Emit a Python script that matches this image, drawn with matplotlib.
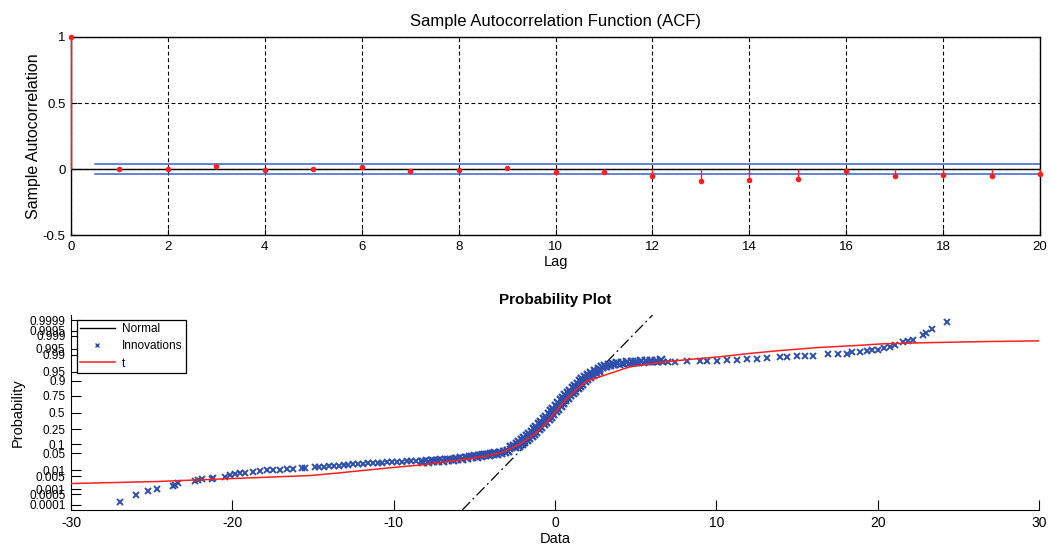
import matplotlib
matplotlib.use('Agg')
import matplotlib.pyplot as plt
from matplotlib.lines import Line2D
import numpy as np
from statistics import NormalDist

plt.rcParams['font.family'] = ['Liberation Sans', 'DejaVu Sans']
plt.rcParams['axes.unicode_minus'] = False

# --- ACF panel data ---
lags = list(range(21))
acf = [1.0, 0.0, 0.0, 0.02, -0.005, 0.0, 0.017, -0.015, -0.008, 0.005, -0.02,
       -0.02, -0.05, -0.094, -0.086, -0.074, -0.013, -0.05, -0.045, -0.05, -0.038]
bound_x = [0.5, 20]
bound_hi = 0.038
bound_lo = -0.038

# --- probability plot data (data value, probability) ---
inn_x = [-26.96, -25.97, -25.21, -24.65, -23.70, -23.55, -23.35, -22.31, -22.11, -21.90,
         -21.28, -21.18, -20.45, -20.14, -19.83, -19.52, -19.20, -18.70, -18.28, -17.87,
         -17.46, -17.05, -16.63, -16.22, -15.70, -15.50, -14.88,
         -14.6, -14.3, -14.0, -13.7, -13.4, -13.1, -12.8, -12.5, -12.2, -11.9,
         -11.6, -11.3, -11.0, -10.7, -10.4, -10.1, -9.8, -9.5, -9.2, -8.9,
         -8.6, -8.3, -8.0, -7.7, -7.4, -7.1, -6.8, -6.5, -6.2, -5.9,
         -5.6, -5.3, -5.0, -4.75, -4.5, -4.25, -4.0, -3.75, -3.5, -3.25,
         -3.0, -2.8, -2.6, -2.4, -2.2, -2.05, -1.9, -1.75, -1.6, -1.45,
         -1.3, -1.15, -1.0, -0.85, -0.7, -0.55, -0.4, -0.25, -0.1, 0.05,
         0.2, 0.35, 0.5, 0.65, 0.8, 0.95, 1.1, 1.25, 1.4, 1.55,
         1.7, 1.85, 2.0, 2.2, 2.4, 2.6, 2.8, 3.0, 3.25, 3.5,
         3.75, 4.0, 4.3, 4.6, 4.9, 5.2, 5.5, 5.8, 6.1, 6.4,
         6.7, 7.0, 7.44, 8.18, 8.99, 9.42, 10.04, 10.66, 11.28, 11.90,
         12.52, 13.14, 13.95, 14.38, 15.00, 15.50, 15.99, 16.92, 17.54, 18.10,
         18.41, 18.91, 19.34, 19.65, 20.02, 20.39, 20.77, 21.08, 21.57, 21.88,
         22.19, 22.81, 23.00, 23.37, 24.30]
inn_p = [0.00015, 0.00043, 0.00076, 0.00103, 0.00144, 0.00164, 0.00212, 0.00290, 0.00330, 0.00368,
         0.00390, 0.00410, 0.00480, 0.00570, 0.00640, 0.00714, 0.00760, 0.00842, 0.00900, 0.01000,
         0.01030, 0.01080, 0.01110, 0.01150, 0.01290, 0.01330, 0.01390,
         0.0143, 0.0146, 0.0150, 0.0154, 0.0160, 0.0166, 0.0174, 0.0183, 0.0190, 0.0197,
         0.0202, 0.0209, 0.0214, 0.0220, 0.0225, 0.0230, 0.0236, 0.0239, 0.0244, 0.0250,
         0.0256, 0.0262, 0.0268, 0.0277, 0.0284, 0.0294, 0.0307, 0.0318, 0.0333, 0.0352,
         0.0371, 0.0392, 0.0418, 0.0441, 0.0465, 0.0485, 0.0510, 0.0537, 0.0571, 0.0606,
         0.0649, 0.0708, 0.0808, 0.0918, 0.1057, 0.1190, 0.1357, 0.1539, 0.1711, 0.1949,
         0.2206, 0.2514, 0.2810, 0.3192, 0.3557, 0.3936, 0.4364, 0.4761, 0.5199, 0.5636,
         0.6064, 0.6480, 0.6879, 0.7257, 0.7580, 0.7852, 0.8106, 0.8365, 0.8577, 0.8790,
         0.8980, 0.9131, 0.9251, 0.9370, 0.9463, 0.9545, 0.9591, 0.9633, 0.9671, 0.9699,
         0.9719, 0.9735, 0.9747, 0.9759, 0.9767, 0.9773, 0.9778, 0.9783, 0.9788, 0.9793,
         0.9797, 0.9800, 0.9802, 0.9805, 0.9811, 0.9816, 0.9820, 0.9824, 0.9829, 0.9848,
         0.9853, 0.9856, 0.9878, 0.9880, 0.9890, 0.9891, 0.9892, 0.9906, 0.9908, 0.9910,
         0.9924, 0.9929, 0.9931, 0.9941, 0.9945, 0.9953, 0.9957, 0.9969, 0.9979, 0.9981,
         0.9983, 0.99917, 0.99933, 0.99960, 0.99987]

# extra innovations along the edges of the dense central band
band_x = [-8.15, -7.85, -7.55, -7.25, -6.95, -6.65, -6.35, -6.05, -5.75, -5.45,
          -5.15, -4.85, -4.6, -4.35, -4.1, -3.85, -3.6, -3.35, -3.1, -2.9,
          -2.75, -2.55, -2.35, -2.2, -2.05, -1.9, -1.75, -1.6, -1.45, -1.3,
          -1.15, -1.0, -0.85, -0.7, -0.55, -0.4, -0.25, -0.1, 0.05, 0.2,
          0.35, 0.5, 0.65, 0.8, 0.95, 1.1, 1.25, 1.4, 1.55, 1.7,
          1.85, 2.05, 2.25, 2.45,
          -2.45, -2.25, -2.05, -1.9, -1.75, -1.6, -1.45, -1.3, -1.15, -1.0,
          -0.85, -0.7, -0.55, -0.4, -0.25, -0.1, 0.05, 0.2, 0.35, 0.5,
          0.65, 0.8, 0.95, 1.1, 1.25, 1.4, 1.55, 1.7, 1.85, 2.0,
          2.15, 2.35, 2.55, 2.75,
          2.7, 2.9, 3.12, 3.37, 3.62, 3.87, 4.15, 4.45, 4.75, 5.05,
          5.35, 5.65, 5.95, 6.25, 6.55]
band_p = [0.0230, 0.0239, 0.0244, 0.0252, 0.0262, 0.0274, 0.0284, 0.0301, 0.0317, 0.0336,
          0.0355, 0.0380, 0.0401, 0.0418, 0.0441, 0.0465, 0.0490, 0.0521, 0.0559, 0.0606,
          0.0808, 0.0918, 0.1057, 0.1190, 0.1357, 0.1539, 0.1711, 0.1949, 0.2206, 0.2514,
          0.2810, 0.3192, 0.3557, 0.3936, 0.4364, 0.4761, 0.5199, 0.5636, 0.6064, 0.6480,
          0.6879, 0.7257, 0.7580, 0.7852, 0.8106, 0.8365, 0.8577, 0.8790, 0.8980, 0.9131,
          0.9251, 0.9370, 0.9463, 0.9545,
          0.0808, 0.0918, 0.1057, 0.1190, 0.1357, 0.1539, 0.1711, 0.1949, 0.2206, 0.2514,
          0.2810, 0.3192, 0.3557, 0.3936, 0.4364, 0.4761, 0.5199, 0.5636, 0.6064, 0.6480,
          0.6879, 0.7257, 0.7580, 0.7852, 0.8106, 0.8365, 0.8577, 0.8790, 0.8980, 0.9131,
          0.9251, 0.9370, 0.9463, 0.9545,
          0.9621, 0.9660, 0.9696, 0.9726, 0.9747, 0.9763, 0.9775, 0.9786, 0.9794, 0.9801,
          0.9805, 0.9810, 0.9815, 0.9819, 0.9823]

t_x = [-30, -24.73, -20.02, -15.19, -13.33, -10.85, -8.37, -5.89, -4.21, -3.22,
       -2.17, -1.12, -0.50, 0.12, 0.74, 1.36, 1.98, 2.79, 4.65, 6.51,
       8.37, 10.23, 12.09, 13.95, 16.43, 18.78, 20.33, 23.37, 26.65, 30]
t_p = [0.00210, 0.00270, 0.00390, 0.00554, 0.00755, 0.01173, 0.01713, 0.02775, 0.0397, 0.0559,
       0.102, 0.215, 0.352, 0.540, 0.719, 0.829, 0.898, 0.9256, 0.9676, 0.9785,
       0.9840, 0.9878, 0.9915, 0.9938, 0.9957, 0.9966, 0.99723, 0.99762, 0.99790, 0.99808]

normal_x = [-5.75, 6.05]
normal_p = [0.000042, 0.999958]

prob_ticks = [0.0001, 0.0005, 0.001, 0.005, 0.01, 0.05, 0.1, 0.25, 0.5,
              0.75, 0.9, 0.95, 0.99, 0.995, 0.999, 0.9995, 0.9999]
prob_labels = ['0.0001', '0.0005', '0.001', '0.005', '0.01', '0.05', '0.1', '0.25', '0.5',
               '0.75', '0.9', '0.95', '0.99', '0.995', '0.999', '0.9995', '0.9999']

nd = NormalDist()
_inv = np.vectorize(nd.inv_cdf, otypes=[float])
_cdf = np.vectorize(nd.cdf, otypes=[float])


def to_z(p):
    p = np.clip(np.asarray(p, dtype=float), 1e-12, 1 - 1e-12)
    return _inv(p)


def to_p(z):
    return _cdf(np.asarray(z, dtype=float))


red = '#ff1f1f'
blue = '#2f4faa'
bline = '#3a5fcd'

fig = plt.figure(figsize=(10.5, 5.48), dpi=100)

# top: sample ACF
ax1 = fig.add_axes([0.0676, 0.571, 0.9229, 0.3615])
ml, sl, bl = ax1.stem(lags, acf, linefmt='-', markerfmt='o', basefmt='k-')
plt.setp(sl, color=red, linewidth=1.0, zorder=4, clip_on=False)
plt.setp(ml, color=red, markersize=3.0, zorder=5, clip_on=False)
plt.setp(bl, color='k', linewidth=1.0, zorder=3)
ax1.plot(bound_x, [bound_hi, bound_hi], color=bline, lw=1.1, zorder=3)
ax1.plot(bound_x, [bound_lo, bound_lo], color=bline, lw=1.1, zorder=3)
ax1.set_xlim(0, 20)
ax1.set_ylim(-0.5, 1)
ax1.set_xticks(range(0, 21, 2))
ax1.set_yticks([-0.5, 0, 0.5, 1])
ax1.set_yticklabels(['-0.5', '0', '0.5', '1'])
ax1.grid(True, color='k', linestyle=(0, (3.5, 2.5)), linewidth=0.8)
ax1.tick_params(direction='in', length=4, labelsize=9.5, pad=4, color='k')
for s in ax1.spines.values():
    s.set_linewidth(1.0)
    s.set_zorder(3.5)
ax1.set_title('Sample Autocorrelation Function (ACF)', fontsize=12, pad=8)
ax1.set_xlabel('Lag', fontsize=10.5, labelpad=2)
ax1.set_ylabel('Sample Autocorrelation', fontsize=11.5, labelpad=1)

# bottom: probability plot
ax2 = fig.add_axes([0.0676, 0.0693, 0.9219, 0.3557])
ax2.set_yscale('function', functions=(to_z, to_p))
ax2.plot(normal_x, normal_p, color='k', lw=0.9, linestyle=(0, (9, 3, 1.5, 3)), zorder=2)
ax2.plot(inn_x, inn_p, linestyle='none', marker='x', markersize=4.5, markeredgewidth=1.4,
         color=blue, zorder=4)
ax2.plot(band_x, band_p, linestyle='none', marker='x', markersize=5.2, markeredgewidth=1.7,
         color=blue, zorder=4)
ax2.plot(t_x, t_p, color=red, lw=1.1, zorder=5)
ax2.set_xlim(-30, 30)
ax2.set_ylim(to_p(-3.93), to_p(3.93))
ax2.set_xticks(range(-30, 31, 10))
ax2.set_yticks(prob_ticks)
ax2.set_yticklabels(prob_labels)
ax2.minorticks_off()
ax2.tick_params(axis='x', direction='in', length=7, labelsize=10, pad=4, color='k')
ax2.tick_params(axis='y', direction='in', length=7, labelsize=8.5, pad=4, color='k')
ax2.spines['top'].set_visible(False)
ax2.spines['right'].set_visible(False)
ax2.set_title('Probability Plot', fontsize=11, fontweight='bold', pad=8)
ax2.set_xlabel('Data', fontsize=10.5, labelpad=2)
ax2.set_ylabel('Probability', fontsize=10.5, labelpad=3)

handles = [Line2D([], [], color='k', lw=1.0),
           Line2D([], [], linestyle='none', marker='x', markersize=3.5, color=blue),
           Line2D([], [], color=red, lw=1.1)]
leg = ax2.legend(handles, ['Normal', 'Innovations', 't'], loc='upper left',
                 bbox_to_anchor=(0.006, 0.975), fontsize=8.5, frameon=True, fancybox=False,
                 framealpha=1, edgecolor='k', borderpad=0.25, labelspacing=0.45,
                 handlelength=3.0, handletextpad=0.6, borderaxespad=0)
leg.get_frame().set_linewidth(0.9)
leg.set_zorder(6)

fig.savefig('out.png', dpi=100)
